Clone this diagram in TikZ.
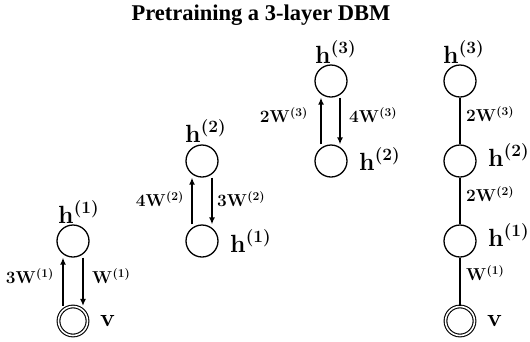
\documentclass[tikz,border=0pt]{standalone}
\usepackage{fontspec}
\newfontfamily\titlefont{Liberation Serif}
\usetikzlibrary{arrows.meta}
\begin{document}
\begin{tikzpicture}[x=1pt,y=-1pt,
  unit/.style={circle,draw,line width=1.3pt,minimum size=32pt,inner sep=0pt},
  vis/.style={circle,draw,double,line width=1.1pt,double distance=1.6pt,minimum size=29pt,inner sep=0pt},
  arr/.style={line width=1.6pt,-{Latex[length=7pt,width=6pt]}},
  conn/.style={line width=1.3pt},
  nlab/.style={inner sep=0pt,font=\fontsize{24}{28}\selectfont\boldmath},
  elab/.style={inner sep=0pt,font=\fontsize{17}{20}\selectfont\boldmath},
]
\useasboundingbox (0,0) rectangle (530,341);
\node[font=\titlefont\bfseries\fontsize{22.5}{26}\selectfont] (title) at (261,15) {Pretraining a 3-layer DBM};

% stack 1
\node[unit] (a1) at (73,241) {};
\node[vis] (av) at (73,321) {};
\draw[arr] ([xshift=-10pt]av.north) -- ([xshift=-10pt]a1.south);
\draw[arr] ([xshift=10pt]a1.south) -- ([xshift=10pt]av.north);
\node[nlab,anchor=base west] (a1l) at (58,223) {$\mathbf{h}^{(1)}$};
\node[nlab,anchor=west] (avl) at (100,321) {$\mathbf{v}$};
\node[elab,anchor=east] (ae1) at (54,276) {$3\mathbf{W}^{(1)}$};
\node[elab,anchor=west] (ae2) at (92,276) {$\mathbf{W}^{(1)}$};

% stack 2
\node[unit] (b2) at (202,161) {};
\node[unit] (b1) at (202,241) {};
\draw[arr] ([xshift=-10pt]b1.north) -- ([xshift=-10pt]b2.south);
\draw[arr] ([xshift=10pt]b2.south) -- ([xshift=10pt]b1.north);
\node[nlab,anchor=base west] (b2l) at (185,142) {$\mathbf{h}^{(2)}$};
\node[nlab,anchor=base west] (b1l) at (230,252) {$\mathbf{h}^{(1)}$};
\node[elab,anchor=east] (be1) at (184,199) {$4\mathbf{W}^{(2)}$};
\node[elab,anchor=west] (be2) at (217,199) {$3\mathbf{W}^{(2)}$};

% stack 3
\node[unit] (c3) at (331,81) {};
\node[unit] (c2) at (331,161) {};
\draw[arr] ([xshift=-10pt]c2.north) -- ([xshift=-10pt]c3.south);
\draw[arr] ([xshift=9pt]c3.south) -- ([xshift=9pt]c2.north);
\node[nlab,anchor=base west] (c3l) at (315,63) {$\mathbf{h}^{(3)}$};
\node[nlab,anchor=base west] (c2l) at (359,170) {$\mathbf{h}^{(2)}$};
\node[elab,anchor=east] (ce1) at (308,115) {$2\mathbf{W}^{(3)}$};
\node[elab,anchor=west] (ce2) at (349,115) {$4\mathbf{W}^{(3)}$};

% stack 4
\node[unit] (d3) at (460,81) {};
\node[unit] (d2) at (460,161) {};
\node[unit] (d1) at (460,241) {};
\node[vis] (dv) at (460,321) {};
\draw[conn] (d3) -- (d2);
\draw[conn] (d2) -- (d1);
\draw[conn] (d1) -- (dv);
\node[nlab,anchor=base west] (d3l) at (443,63) {$\mathbf{h}^{(3)}$};
\node[nlab,anchor=base west] (d2l) at (488,166) {$\mathbf{h}^{(2)}$};
\node[nlab,anchor=base west] (d1l) at (488,246) {$\mathbf{h}^{(1)}$};
\node[nlab,anchor=west] (dvl) at (487,321) {$\mathbf{v}$};
\node[elab,anchor=west] (de3) at (466,114) {$2\mathbf{W}^{(3)}$};
\node[elab,anchor=west] (de2) at (466,194) {$2\mathbf{W}^{(2)}$};
\node[elab,anchor=west] (de1) at (466,273) {$\mathbf{W}^{(1)}$};
\end{tikzpicture}
\end{document}
